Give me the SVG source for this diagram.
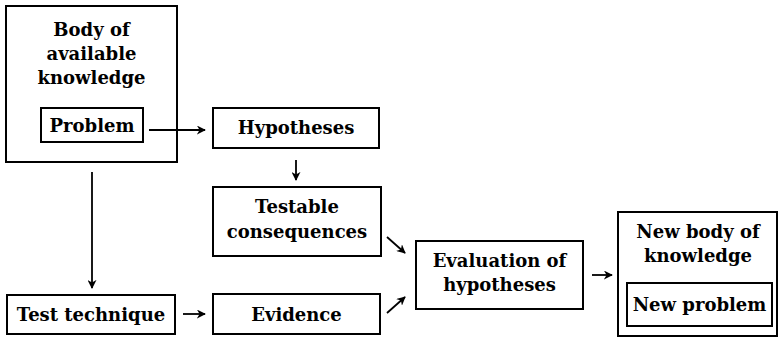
<svg xmlns="http://www.w3.org/2000/svg" width="779" height="338" viewBox="0 0 779 338">
<defs>
<marker id="ah" viewBox="0 0 10 10" refX="9" refY="5" markerWidth="9" markerHeight="9" markerUnits="userSpaceOnUse" orient="auto">
<path d="M0,0 L10,5 L0,10 L3,5 Z" fill="#000"/>
</marker>
<style>
.n rect{fill:#fff;stroke:#000;stroke-width:2}
text{font-family:"DejaVu Serif","Liberation Serif",serif;font-weight:bold;font-size:18px;text-anchor:middle;fill:#000}
.c line{stroke:#000;stroke-width:1.8;marker-end:url(#ah)}
</style>
</defs>
<rect width="779" height="338" fill="#fff"/>
<g id="body" class="n">
<rect x="6" y="6" width="171" height="156"/>
<text x="91.5" y="36">Body of</text>
<text x="91.5" y="60">available</text>
<text x="91.5" y="84">knowledge</text>
<g id="problem">
<rect x="41" y="108" width="102" height="34"/>
<text x="92" y="132">Problem</text>
</g>
</g>
<g id="hypotheses" class="n">
<rect x="213" y="108" width="166" height="40"/>
<text x="296" y="134">Hypotheses</text>
</g>
<g id="testable" class="n">
<rect x="213" y="187" width="168" height="69"/>
<text x="297" y="213">Testable</text>
<text x="297" y="238">consequences</text>
</g>
<g id="evaluation" class="n">
<rect x="416" y="241" width="167" height="68"/>
<text x="499.5" y="267">Evaluation of</text>
<text x="499.5" y="291">hypotheses</text>
</g>
<g id="test" class="n">
<rect x="7" y="295" width="168" height="39"/>
<text x="91" y="321">Test technique</text>
</g>
<g id="evidence" class="n">
<rect x="213" y="294" width="167" height="40"/>
<text x="296.5" y="321">Evidence</text>
</g>
<g id="newbody" class="n">
<rect x="618" y="212" width="159" height="124"/>
<text x="698" y="238">New body of</text>
<text x="698" y="262">knowledge</text>
<g id="newproblem">
<rect x="627" y="283" width="145" height="43"/>
<text x="699.5" y="311">New problem</text>
</g>
</g>
<g class="c" id="connectors">
<line x1="149" y1="130" x2="205" y2="130"/>
<line x1="296" y1="160" x2="296" y2="180"/>
<line x1="92" y1="172" x2="92" y2="288"/>
<line x1="183" y1="314" x2="205" y2="314"/>
<line x1="387" y1="237" x2="405" y2="253"/>
<line x1="387" y1="313" x2="405" y2="297"/>
<line x1="592" y1="275" x2="612" y2="275"/>
</g>
</svg>
